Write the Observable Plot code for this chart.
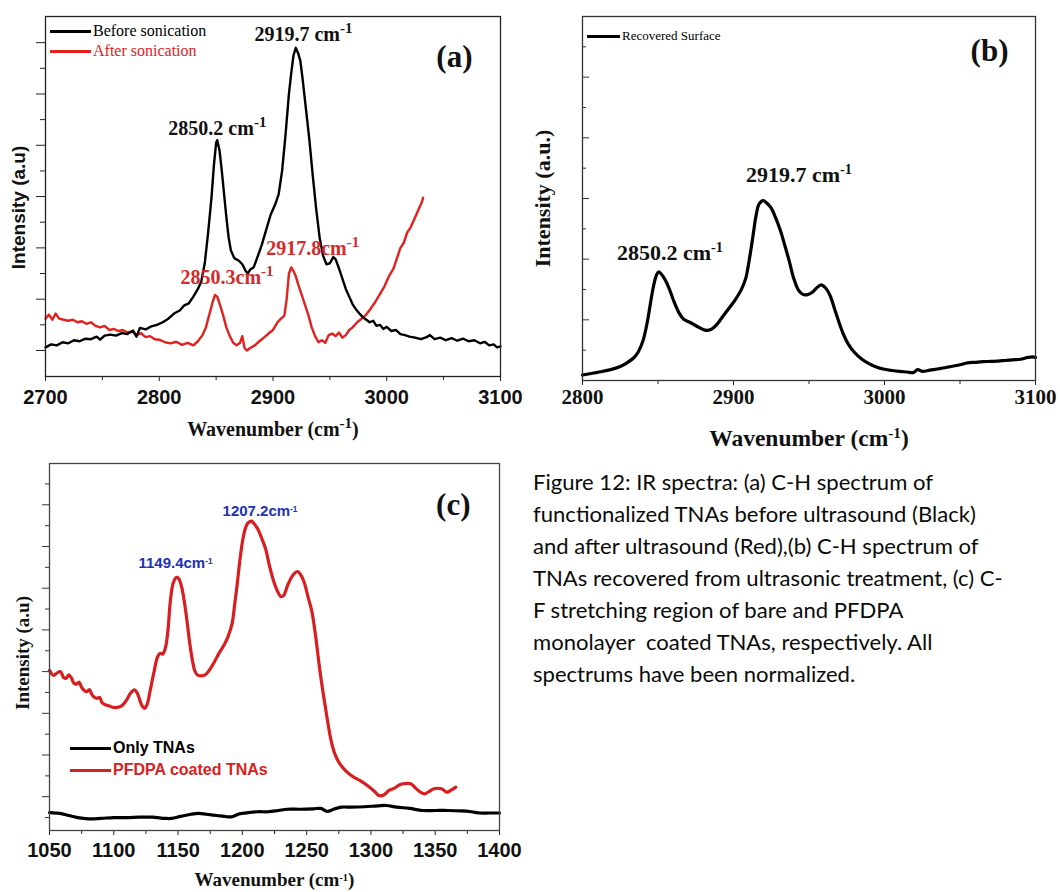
<!DOCTYPE html>
<html><head><meta charset="utf-8">
<script src="https://cdn.jsdelivr.net/npm/d3@7"></script>
<script src="https://cdn.jsdelivr.net/npm/@observablehq/plot@0.6"></script>
<style>
body{margin:0;background:#fff;}
#root{position:relative;width:1060px;height:892px;overflow:hidden;background:#fff;}
.panel{position:absolute;}
.leg{position:absolute;white-space:nowrap;}
.sw{position:absolute;height:3px;}
#caption{position:absolute;left:533px;font-family:Lato,"Open Sans",sans-serif;color:#0a0a0a;white-space:pre;}
#caption div{height:32px;line-height:32px;}
</style></head><body><div id="root"></div><script>
// ---------- DATA ----------
// Panel (a): C-H region, before / after sonication  [wavenumber, intensity]
const beforeSonication = [[2700,0.06],[2705,0.12],[2710,0.10],[2715,0.16],[2720,0.14],[2725,0.20],[2730,0.18],[2735,0.23],[2740,0.22],[2745,0.27],[2748,0.21],[2752,0.29],[2757,0.31],[2762,0.29],[2767,0.34],[2772,0.32],[2777,0.39],[2780,0.27],[2783,0.44],[2788,0.41],[2793,0.47],[2798,0.50],[2803,0.55],[2808,0.62],[2813,0.72],[2818,0.78],[2822,0.88],[2826,0.92],[2830,1.05],[2834,1.20],[2837,1.35],[2840,1.70],[2843,2.30],[2846,3.00],[2848,3.60],[2850,4.05],[2851,4.10],[2853,3.90],[2855,3.50],[2857,3.05],[2859,2.60],[2861,2.20],[2863,1.95],[2866,1.80],[2870,1.75],[2873,1.68],[2876,1.55],[2878,1.50],[2880,1.58],[2883,1.62],[2886,1.80],[2890,2.05],[2894,2.35],[2898,2.65],[2902,2.85],[2905,3.05],[2908,3.50],[2911,4.20],[2914,5.00],[2916,5.40],[2918,5.75],[2920,5.90],[2922,5.80],[2924,5.65],[2926,5.30],[2929,4.70],[2932,4.10],[2935,3.40],[2938,2.75],[2941,2.20],[2944,1.85],[2947,1.68],[2950,1.70],[2953,1.82],[2955,1.78],[2958,1.60],[2961,1.40],[2964,1.20],[2967,1.05],[2970,0.90],[2973,0.80],[2976,0.72],[2979,0.65],[2982,0.60],[2985,0.55],[2988,0.58],[2991,0.48],[2994,0.50],[2997,0.42],[3000,0.46],[3004,0.38],[3008,0.40],[3012,0.32],[3016,0.30],[3020,0.27],[3025,0.25],[3030,0.22],[3035,0.26],[3038,0.30],[3042,0.22],[3047,0.25],[3052,0.20],[3057,0.24],[3062,0.19],[3067,0.23],[3072,0.18],[3077,0.20],[3082,0.14],[3086,0.17],[3090,0.10],[3094,0.12],[3097,0.06],[3100,0.08]];
const afterSonication = [[2700,0.62],[2703,0.70],[2706,0.60],[2709,0.72],[2712,0.62],[2716,0.60],[2720,0.58],[2724,0.60],[2728,0.55],[2732,0.57],[2736,0.52],[2740,0.55],[2744,0.48],[2748,0.45],[2752,0.48],[2756,0.40],[2760,0.42],[2764,0.38],[2768,0.40],[2772,0.35],[2776,0.37],[2780,0.30],[2784,0.34],[2788,0.26],[2792,0.28],[2796,0.22],[2800,0.21],[2805,0.16],[2810,0.14],[2815,0.17],[2820,0.11],[2825,0.15],[2830,0.10],[2834,0.18],[2838,0.30],[2841,0.45],[2844,0.70],[2847,0.95],[2849,1.08],[2851,1.05],[2853,0.92],[2856,0.70],[2859,0.45],[2862,0.28],[2865,0.15],[2868,0.10],[2871,0.15],[2873,0.28],[2875,0.05],[2877,0.00],[2880,0.05],[2884,0.10],[2888,0.18],[2892,0.25],[2896,0.33],[2900,0.40],[2904,0.55],[2907,0.62],[2910,0.68],[2912,1.00],[2914,1.50],[2916,1.62],[2918,1.55],[2920,1.45],[2922,1.30],[2925,1.10],[2928,0.90],[2931,0.70],[2934,0.45],[2937,0.28],[2940,0.16],[2943,0.20],[2946,0.15],[2949,0.30],[2952,0.33],[2955,0.28],[2958,0.35],[2961,0.25],[2964,0.30],[2967,0.40],[2970,0.45],[2974,0.55],[2978,0.62],[2982,0.70],[2986,0.82],[2990,0.95],[2994,1.10],[2998,1.25],[3002,1.45],[3006,1.60],[3009,1.80],[3012,2.00],[3015,2.10],[3018,2.30],[3021,2.40],[3024,2.55],[3027,2.70],[3029,2.80],[3031,2.90],[3032,2.98]];
const peaksA = [
  {label:"2919.7 cm^{-1}", x:2883.7, y:6.16, series:"before"},
  {label:"2850.2 cm^{-1}", x:2808, y:4.32, series:"before"},
  {label:"2917.8cm^{-1}", x:2894, y:1.99, series:"after"},
  {label:"2850.3cm^{-1}", x:2818.7, y:1.42, series:"after"}
];
const xMajorA = [2700,2800,2900,3000,3100];
const xMinorA = [2750,2850,2950,3050];
const yMajorA = [0,1,2,3,4,5,6];
const yMinorA = [0.5,1.5,2.5,3.5,4.5,5.5];

// Panel (b): recovered surface
const recoveredSurface = [[2800,0.18],[2810,0.27],[2818,0.35],[2825,0.46],[2830,0.60],[2834,0.75],[2837,0.95],[2840,1.30],[2843,1.95],[2845,2.55],[2847,3.10],[2849,3.48],[2850.5,3.58],[2852,3.52],[2855,3.30],[2858,2.95],[2861,2.55],[2864,2.22],[2867,2.02],[2871,1.92],[2876,1.78],[2881,1.66],[2885,1.68],[2889,1.85],[2893,2.12],[2897,2.38],[2901,2.65],[2905,2.98],[2908,3.35],[2911,4.15],[2913,4.80],[2915,5.45],[2917,5.82],[2919.7,5.93],[2922,5.85],[2925,5.68],[2928,5.35],[2931,4.95],[2934,4.45],[2937,3.92],[2940,3.35],[2943,2.98],[2946,2.84],[2949,2.83],[2952,2.90],[2955,3.05],[2958,3.15],[2961,3.05],[2964,2.80],[2967,2.35],[2970,1.90],[2973,1.50],[2976,1.20],[2980,0.93],[2985,0.70],[2990,0.55],[2995,0.44],[3000,0.37],[3005,0.33],[3010,0.30],[3015,0.28],[3019,0.26],[3022,0.36],[3025,0.30],[3030,0.34],[3035,0.38],[3040,0.42],[3045,0.47],[3050,0.52],[3055,0.58],[3060,0.60],[3065,0.62],[3070,0.63],[3075,0.64],[3080,0.66],[3085,0.68],[3090,0.70],[3095,0.76],[3098,0.78],[3100,0.76]];
const peaksB = [
  {label:"2850.2 cm^{-1}", x:2822.8, y:4.2},
  {label:"2919.7 cm^{-1}", x:2908.2, y:6.76}
];
const xMajorB = [2800,2900,3000,3100];
const xMinorB = [2850,2950,3050];
const yMajorB = [2,4,6,8,10];
const yMinorB = [1,3,5,7,9,11];

// Panel (c): C-F region
const pfdpaCoated = [[1050,3.03],[1053,2.91],[1056,2.97],[1058.5,3.0],[1061,2.86],[1063,2.84],[1065,2.92],[1067,2.85],[1069,2.72],[1071,2.70],[1073,2.75],[1075,2.62],[1077,2.55],[1079,2.52],[1081,2.57],[1083,2.45],[1085,2.38],[1087,2.36],[1089,2.38],[1091,2.25],[1094,2.20],[1097,2.17],[1100,2.14],[1104,2.15],[1107,2.20],[1110,2.32],[1113,2.48],[1116,2.56],[1118,2.50],[1120,2.34],[1122,2.18],[1124,2.12],[1126,2.22],[1128,2.50],[1131,2.95],[1134,3.35],[1136,3.44],[1138,3.42],[1140,3.55],[1142,3.95],[1144,4.70],[1146,5.10],[1148,5.24],[1149.4,5.26],[1151,5.20],[1153,5.00],[1155,4.65],[1157,4.20],[1159,3.70],[1161,3.30],[1163,3.02],[1165,2.92],[1168,2.90],[1171,2.92],[1174,3.02],[1178,3.22],[1182,3.45],[1186,3.65],[1189,3.85],[1192,4.15],[1194,4.60],[1196,5.10],[1198,5.65],[1200,6.10],[1202,6.40],[1204,6.55],[1206,6.60],[1207.2,6.61],[1209,6.55],[1212,6.42],[1215,6.20],[1218,5.95],[1221,5.55],[1224,5.20],[1227,4.95],[1230,4.80],[1232,4.82],[1235,5.05],[1238,5.25],[1241,5.37],[1243,5.40],[1245,5.34],[1248,5.15],[1251,4.80],[1254,4.45],[1257,3.85],[1260,3.10],[1263,2.45],[1266,1.87],[1269,1.35],[1272,1.02],[1276,0.78],[1281,0.60],[1286,0.48],[1292,0.38],[1298,0.25],[1303,0.12],[1306,0.03],[1310,0.04],[1314,0.15],[1318,0.20],[1322,0.28],[1325,0.31],[1331,0.31],[1335,0.20],[1339,0.10],[1342,0.07],[1345,0.12],[1349,0.19],[1355,0.19],[1359,0.11],[1362,0.15],[1366,0.23]];
const onlyTNAs = [[1050,-0.38],[1058,-0.40],[1065,-0.45],[1072,-0.50],[1080,-0.53],[1090,-0.52],[1100,-0.50],[1110,-0.50],[1120,-0.49],[1130,-0.49],[1140,-0.52],[1145,-0.52],[1152,-0.47],[1160,-0.42],[1166,-0.40],[1172,-0.42],[1180,-0.45],[1188,-0.48],[1192,-0.48],[1198,-0.41],[1205,-0.38],[1212,-0.36],[1220,-0.36],[1228,-0.33],[1235,-0.30],[1245,-0.30],[1255,-0.29],[1261,-0.28],[1266,-0.35],[1271,-0.30],[1277,-0.25],[1285,-0.25],[1295,-0.24],[1305,-0.22],[1312,-0.21],[1320,-0.25],[1330,-0.28],[1340,-0.33],[1350,-0.33],[1360,-0.33],[1370,-0.34],[1378,-0.36],[1385,-0.39],[1392,-0.39],[1400,-0.39]];
const peaksC = [
  {label:"1207.2cm^{-1}", x:1184.6, y:6.85},
  {label:"1149.4cm^{-1}", x:1119.2, y:5.61}
];
const xMajorC = [1050,1100,1150,1200,1250,1300,1350,1400];
const xMinorC = [1075,1125,1175,1225,1275,1325,1375];
const yMajorC = [0,1,2,3,4,5,6,7];
const yMinorC = [-0.5,0.5,1.5,2.5,3.5,4.5,5.5,6.5,7.5];

const captionLines = [
  "Figure 12: IR spectra: (a) C-H spectrum of",
  "functionalized TNAs before ultrasound (Black)",
  "and after ultrasound (Red),(b) C-H spectrum of",
  "TNAs recovered from ultrasonic treatment, (c) C-",
  "F stretching region of bare and PFDPA",
  "monolayer  coated TNAs, respectively. All",
  "spectrums have been normalized."
];

// ---------- RENDER ----------
const SERIF = "'Liberation Serif','Times New Roman',serif";
const SANS = "'Liberation Sans',Arial,sans-serif";
const RED_A = "#e3211c", RED_C = "#d81e1e", BLUE = "#2232b8";
const svgNS = "http://www.w3.org/2000/svg";
const root = document.getElementById("root");

function applySup(svg, size) {
  svg.querySelectorAll("text").forEach(t => {
    const tsp = t.querySelectorAll("tspan");
    const targets = tsp.length ? Array.from(tsp) : [t];
    targets.forEach(el => {
      const s = el.textContent;
      if (!s.includes("^{")) return;
      el.textContent = "";
      s.split(/\^\{([^}]*)\}/).forEach((p, i) => {
        if (!p) return;
        const ts = document.createElementNS(svgNS, "tspan");
        ts.textContent = p;
        if (i % 2) { ts.setAttribute("baseline-shift", "super"); ts.setAttribute("font-size", size); }
        el.appendChild(ts);
      });
    });
  });
}
function place(svg, left, top, supSize) {
  applySup(svg, supSize);
  const d = document.createElement("div");
  d.className = "panel"; d.style.left = left + "px"; d.style.top = top + "px";
  d.appendChild(svg); root.appendChild(d);
}
function legend(items) {
  for (const it of items) {
    const sw = document.createElement("div");
    sw.className = "sw";
    Object.assign(sw.style, {left: it.x0 + "px", width: (it.x1 - it.x0) + "px", top: (it.y - 1.5) + "px", background: it.color});
    root.appendChild(sw);
    const tx = document.createElement("div");
    tx.className = "leg";
    Object.assign(tx.style, {left: (it.x1 + 2) + "px", top: (it.y - it.size * 0.6) + "px", fontFamily: it.font, fontSize: it.size + "px", fontWeight: it.weight || "normal", color: it.color, lineHeight: (it.size * 1.2) + "px"});
    tx.textContent = it.text;
    root.appendChild(tx);
  }
}
const XY = {x: d => d[0], y: d => d[1]};
const noTxt = () => "";

// Panel (a)
const plotA = Plot.plot({
  width: 510, height: 450, marginLeft: 45, marginRight: 10, marginTop: 16, marginBottom: 74,
  x: {domain: [2700, 3100]}, y: {domain: [-0.507, 6.51]}, color: {type: "identity"},
  style: {background: "transparent", overflow: "visible"},
  marks: [
    Plot.axisX(xMajorA, {tickSize: 5, tickPadding: 8, tickFormat: d => String(d), label: null, fontFamily: SANS, fontWeight: "bold", fontSize: 20, fill: "#111", stroke: "#222"}),
    Plot.axisX(xMinorA, {tickSize: 4, tickFormat: noTxt, label: null, stroke: "#222"}),
    Plot.axisY(yMajorA, {tickSize: 9, tickFormat: noTxt, label: null, stroke: "#222"}),
    Plot.axisY(yMinorA, {tickSize: 5, tickFormat: noTxt, label: null, stroke: "#222"}),
    Plot.line(afterSonication, {...XY, stroke: RED_A, strokeWidth: 2.4}),
    Plot.line(beforeSonication, {...XY, stroke: "#000", strokeWidth: 2.4}),
    Plot.text(peaksA, {x: "x", y: "y", text: "label", fill: d => d.series === "before" ? "#111" : "#d42a2a", textAnchor: "start", fontFamily: SERIF, fontWeight: "bold", fontSize: 20}),
    Plot.text(["(a)"], {frameAnchor: "top-right", textAnchor: "end", lineAnchor: "middle", dx: -28, dy: 41, fontFamily: SERIF, fontWeight: "bold", fontSize: 31, fill: "#111"}),
    Plot.text(["Wavenumber (cm^{-1})"], {frameAnchor: "bottom", textAnchor: "middle", lineAnchor: "middle", dy: 53, fontFamily: SERIF, fontWeight: "bold", fontSize: 20, fill: "#111"}),
    Plot.text(["Intensity (a.u)"], {frameAnchor: "left", textAnchor: "middle", lineAnchor: "middle", rotate: -90, dx: -27, dy: 11, fontFamily: SANS, fontWeight: "bold", fontSize: 19, fill: "#111"}),
    Plot.frame({stroke: "#222", strokeWidth: 1.3})
  ]
});
place(plotA, 0, 0, "75%");
legend([
  {x0: 50, x1: 91, y: 31, color: "#000", text: "Before sonication", font: SERIF, size: 16},
  {x0: 50, x1: 91, y: 51, color: RED_A, text: "After sonication", font: SERIF, size: 16}
]);

// Panel (b)
const plotB = Plot.plot({
  width: 540, height: 460, marginLeft: 62, marginRight: 25, marginTop: 16, marginBottom: 80,
  x: {domain: [2800, 3100]}, y: {domain: [0, 12]},
  style: {background: "transparent", overflow: "visible"},
  marks: [
    Plot.axisX(xMajorB, {tickSize: 5, tickPadding: 4, tickFormat: d => String(d), label: null, fontFamily: SERIF, fontWeight: "bold", fontSize: 21, fill: "#111", stroke: "#222"}),
    Plot.axisX(xMinorB, {tickSize: 4, tickFormat: noTxt, label: null, stroke: "#222"}),
    Plot.axisY([], {tickSize: 0, tickFormat: noTxt, label: null}),
    Plot.tickY(yMajorB, {y: d => d, insetRight: 446, stroke: "#333"}),
    Plot.tickY(yMinorB, {y: d => d, insetRight: 449, stroke: "#333"}),
    Plot.line(recoveredSurface, {...XY, stroke: "#000", strokeWidth: 3.2, curve: "catmull-rom"}),
    Plot.text(peaksB, {x: "x", y: "y", text: "label", textAnchor: "start", fontFamily: SERIF, fontWeight: "bold", fontSize: 22, fill: "#111"}),
    Plot.text(["(b)"], {frameAnchor: "top-right", textAnchor: "end", lineAnchor: "middle", dx: -27, dy: 35, fontFamily: SERIF, fontWeight: "bold", fontSize: 31, fill: "#111"}),
    Plot.text(["Wavenumber (cm^{-1})"], {frameAnchor: "bottom", textAnchor: "middle", lineAnchor: "middle", dy: 58, fontFamily: SERIF, fontWeight: "bold", fontSize: 23.5, fill: "#111"}),
    Plot.text(["Intensity (a.u.)"], {frameAnchor: "left", textAnchor: "middle", lineAnchor: "middle", rotate: -90, dx: -40, fontFamily: SERIF, fontWeight: "bold", fontSize: 22, fill: "#111"}),
    Plot.frame({stroke: "#333", strokeWidth: 1.3})
  ]
});
place(plotB, 520, 0, "65%");
legend([
  {x0: 587, x1: 620, y: 36, color: "#000", text: "Recovered Surface", font: SERIF, size: 13}
]);

// Panel (c)
const plotC = Plot.plot({
  width: 520, height: 452, marginLeft: 49, marginRight: 21, marginTop: 23, marginBottom: 62,
  x: {domain: [1050, 1400]}, y: {domain: [-0.81, 7.99]},
  style: {background: "transparent", overflow: "visible"},
  marks: [
    Plot.axisX(xMajorC, {tickSize: 5, tickPadding: 7, tickFormat: d => String(d), label: null, fontFamily: SANS, fontWeight: "bold", fontSize: 20, fill: "#111", stroke: "#222"}),
    Plot.axisX(xMinorC, {tickSize: 4, tickFormat: noTxt, label: null, stroke: "#222"}),
    Plot.axisY(yMajorC, {tickSize: 7, tickFormat: noTxt, label: null, stroke: "#333"}),
    Plot.axisY(yMinorC, {tickSize: 4, tickFormat: noTxt, label: null, stroke: "#333"}),
    Plot.line(onlyTNAs, {...XY, stroke: "#000", strokeWidth: 3.2, curve: "catmull-rom"}),
    Plot.line(pfdpaCoated, {...XY, stroke: RED_C, strokeWidth: 3.2, curve: "catmull-rom"}),
    Plot.text(peaksC, {x: "x", y: "y", text: "label", textAnchor: "start", fontFamily: SANS, fontWeight: "bold", fontSize: 15, fill: BLUE}),
    Plot.text(["(c)"], {frameAnchor: "top-right", textAnchor: "end", lineAnchor: "middle", dx: -29, dy: 42, fontFamily: SERIF, fontWeight: "bold", fontSize: 31, fill: "#111"}),
    Plot.text(["Wavenumber (cm^{-1})"], {frameAnchor: "bottom", textAnchor: "middle", lineAnchor: "middle", dy: 49, fontFamily: SERIF, fontWeight: "bold", fontSize: 19, fill: "#111"}),
    Plot.text(["Intensity (a.u)"], {frameAnchor: "left", textAnchor: "middle", lineAnchor: "middle", rotate: -90, dx: -27, dy: 6, fontFamily: SERIF, fontWeight: "bold", fontSize: 19, fill: "#111"}),
    Plot.frame({stroke: "#444", strokeWidth: 1.3})
  ]
});
place(plotC, 0, 440, "55%");
legend([
  {x0: 70, x1: 111, y: 748, color: "#000", text: "Only TNAs", font: SANS, size: 16, weight: "bold"},
  {x0: 70, x1: 111, y: 770, color: RED_C, text: "PFDPA coated TNAs", font: SANS, size: 16, weight: "bold"}
]);

// Caption
const cap = document.createElement("div");
cap.id = "caption";
const ctx = document.createElement("canvas").getContext("2d");
ctx.font = "20px Lato";
const w0 = ctx.measureText(captionLines[0]).width;
const fs = Math.max(16, Math.min(24, 20 * 400 / w0));
cap.style.fontSize = fs.toFixed(2) + "px";
cap.style.top = (482 - 16) + "px";
for (const line of captionLines) { const l = document.createElement("div"); l.textContent = line; cap.appendChild(l); }
root.appendChild(cap);
</script></body></html>
